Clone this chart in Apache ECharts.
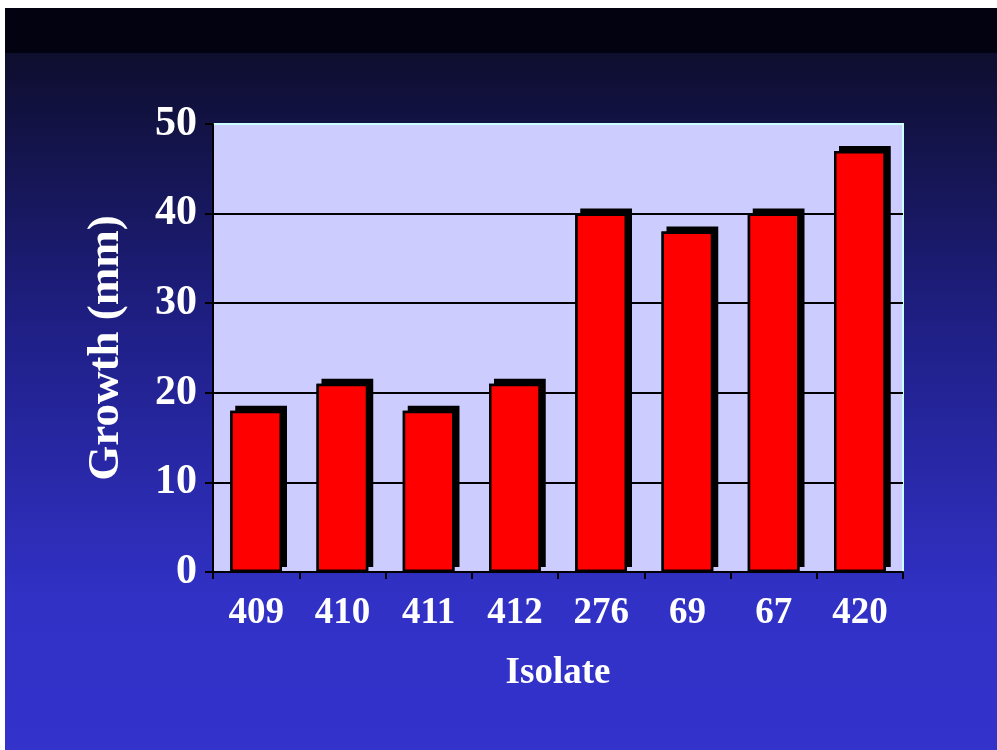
<!DOCTYPE html>
<html>
<head>
<meta charset="utf-8">
<script src="https://cdn.jsdelivr.net/npm/echarts@6/dist/echarts.min.js"></script>
<style>
  html, body { margin: 0; padding: 0; background: #ffffff; }
  #chart { position: absolute; left: 5px; top: 8px; width: 992px; height: 742px; }
</style>
</head>
<body>
<div id="chart"></div>
<script>
const categories = ['409', '410', '411', '412', '276', '69', '67', '420'];
const growthValues = [18, 21, 18, 21, 40, 38, 40, 47];
const yTicks = { min: 0, max: 50, interval: 10 };

const chart = echarts.init(document.getElementById('chart'));
const font = 'Liberation Serif';
chart.setOption({
  animation: false,
  backgroundColor: {
    type: 'linear', x: 0, y: 0, x2: 0, y2: 1,
    colorStops: [
      { offset: 0, color: '#020210' },
      { offset: 0.06, color: '#020210' },
      { offset: 0.0607, color: '#0e0e2e' },
      { offset: 0.45, color: '#20208a' },
      { offset: 0.8, color: '#3131c6' },
      { offset: 1, color: '#3333cc' }
    ]
  },
  grid: {
    left: 208, right: 94, top: 116, bottom: 178,
    show: true, backgroundColor: '#ccccff', borderColor: '#ccffff', borderWidth: 2
  },
  xAxis: {
    type: 'category',
    data: categories,
    name: 'Isolate',
    nameLocation: 'middle',
    nameGap: 83,
    nameTextStyle: { color: '#ffffff', fontFamily: font, fontWeight: 'bold', fontSize: 37 },
    axisLine: { lineStyle: { color: '#000000', width: 2 } },
    axisTick: { show: true, length: 7, lineStyle: { color: '#000000', width: 2 } },
    axisLabel: { color: '#ffffff', fontFamily: font, fontWeight: 'bold', fontSize: 37, margin: 23 }
  },
  yAxis: {
    type: 'value',
    min: yTicks.min, max: yTicks.max, interval: yTicks.interval,
    name: 'Growth (mm)',
    nameLocation: 'middle',
    nameRotate: 90,
    nameGap: 84,
    nameTextStyle: { color: '#ffffff', fontFamily: font, fontWeight: 'bold', fontSize: 45 },
    axisLine: { show: true, lineStyle: { color: '#000000', width: 2 } },
    axisTick: { show: true, length: 8, lineStyle: { color: '#000000', width: 2 } },
    axisLabel: { color: '#ffffff', fontFamily: font, fontWeight: 'bold', fontSize: 42, margin: 16 },
    splitLine: { show: true, lineStyle: { color: ['#000000', '#000000', '#000000', '#000000', '#000000', '#ccffff'], width: 2 } }
  },
  series: [{
    type: 'bar',
    data: growthValues,
    barWidth: '60%',
    barGap: '-100%',
    silent: true,
    itemStyle: {
      color: '#000000',
      shadowColor: '#000000',
      shadowBlur: 0,
      shadowOffsetX: 5,
      shadowOffsetY: -5
    }
  }, {
    type: 'bar',
    data: growthValues,
    barWidth: '60%',
    barGap: '-100%',
    itemStyle: {
      color: '#ff0000',
      borderColor: '#000000',
      borderWidth: 2.5
    }
  }]
});
</script>
</body>
</html>
